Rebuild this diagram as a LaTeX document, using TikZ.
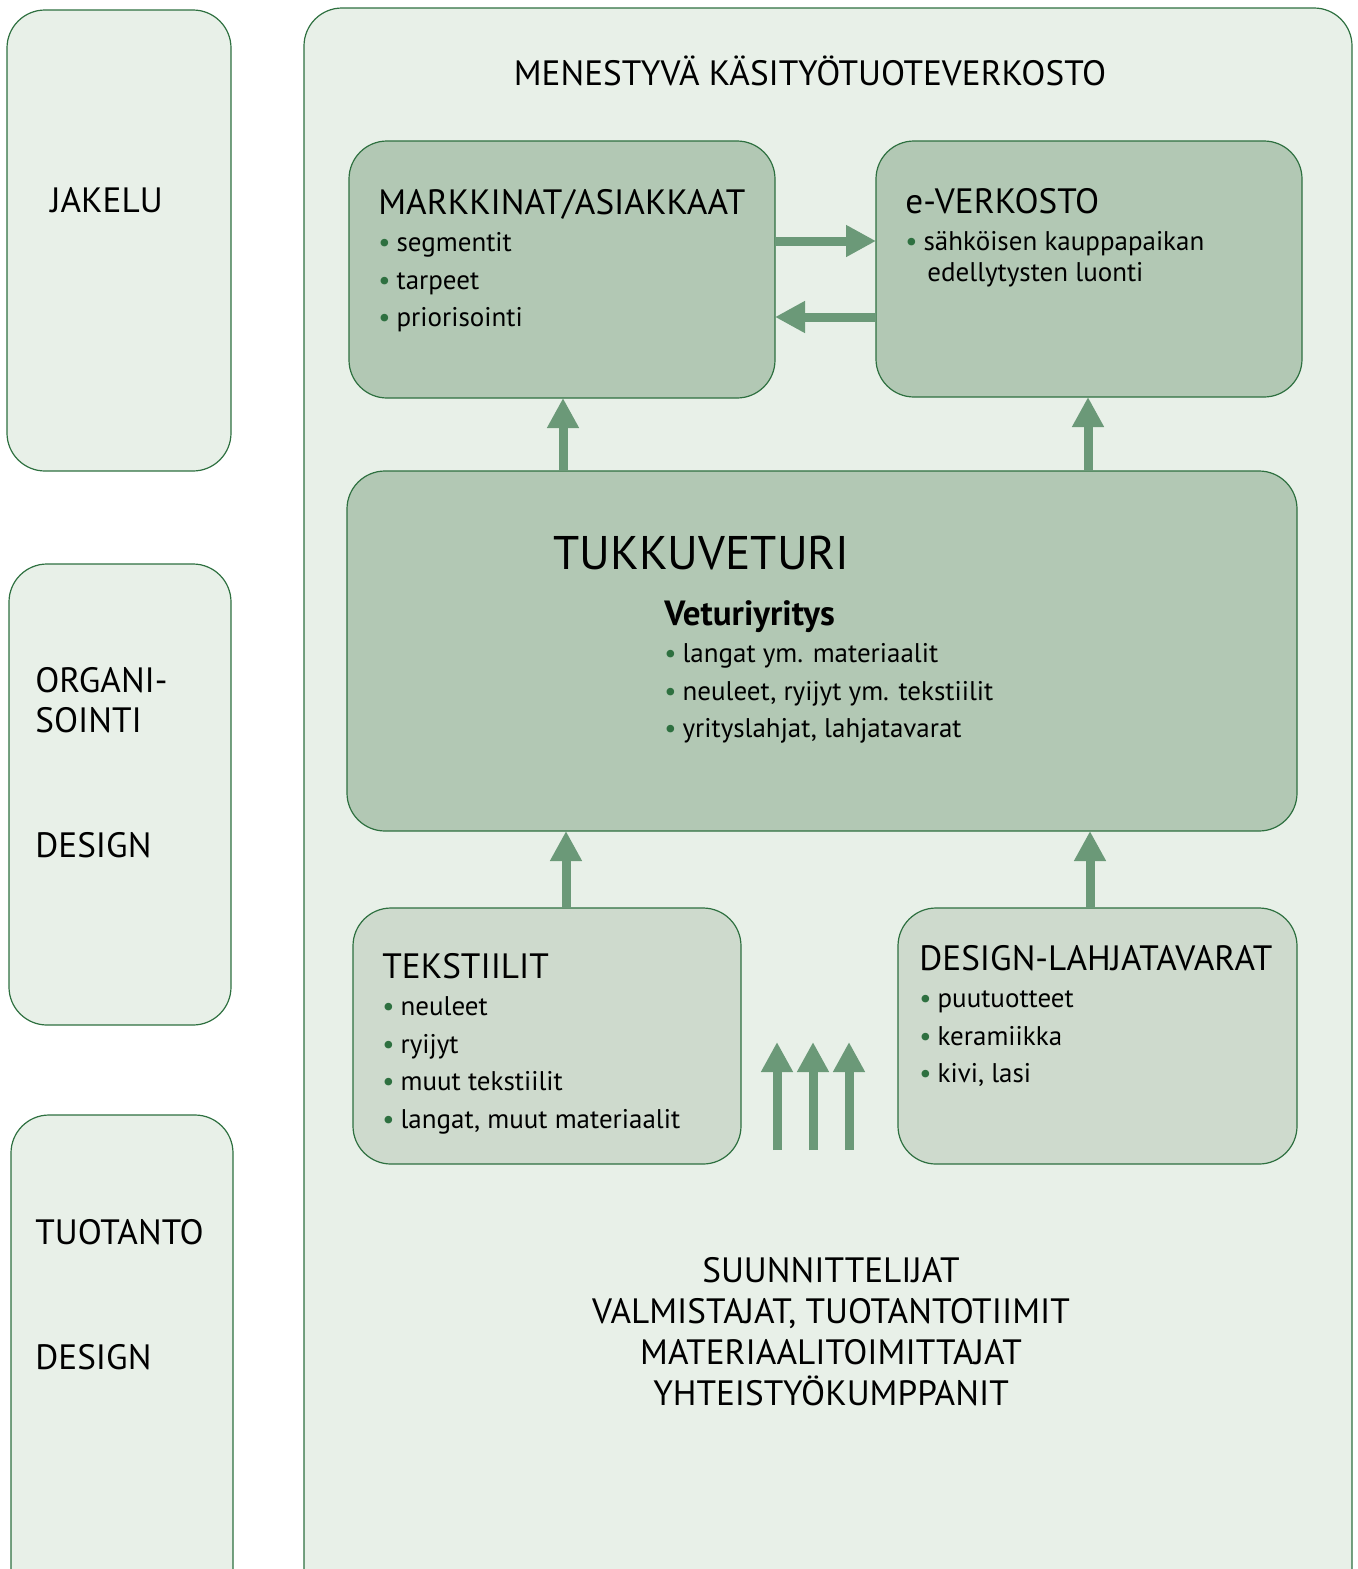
\documentclass[tikz,border=0pt]{standalone}
\usepackage{fontspec}
\setmainfont{PT Sans}
\usetikzlibrary{arrows.meta}

\definecolor{paleGreen}{HTML}{E8F0E8}
\definecolor{midGreen}{HTML}{B2C8B4}
\definecolor{lightGreen}{HTML}{CEDACD}
\definecolor{arrowGreen}{HTML}{6B9978}
\definecolor{lineGreen}{HTML}{2E7040}

\newcommand{\dotitem}{\textcolor{lineGreen}{•}\hspace{3pt}}

\begin{document}
\begin{tikzpicture}[x=0.5pt,y=-0.5pt,
    panel/.style={draw=lineGreen,line width=0.6pt,rounded corners=19pt,
      inner sep=0pt,outer sep=0pt,fill=#1},
    head/.style={anchor=base west,inner sep=0pt,font=\fontsize{17.6}{20}\selectfont},
    item/.style={anchor=base west,inner sep=0pt,font=\fontsize{13.5}{16}\selectfont},
    flow/.style={arrowGreen,line width=4.5pt,
      -{Triangle[length=15pt,width=15pt]}}]
  \useasboundingbox (0,0) rectangle (1357,1569);
  \clip (0,0) rectangle (1357,1569);

  % side columns
  \node[panel=paleGreen,minimum width=112pt,minimum height=230.5pt]
    (jakelu) at (119,240.5) {};
  \node[panel=paleGreen,minimum width=111pt,minimum height=230.5pt]
    (organi) at (120,794.5) {};
  \node[panel=paleGreen,minimum width=111pt,minimum height=252.5pt]
    (tuotanto) at (122,1367.5) {};
  \node[head] (jakeluT) at (50,212) {JAKELU};
  \node[head] (organiT) at (35,692) {ORGANI-};
  \node[head] (sointiT) at (35,732) {SOINTI};
  \node[head] (designA) at (35,857) {DESIGN};
  \node[head] (tuotantoT) at (35,1244) {TUOTANTO};
  \node[head] (designB) at (35,1369) {DESIGN};

  % network frame
  \node[panel=paleGreen,minimum width=524pt,minimum height=806pt]
    (verkosto) at (828,814) {};
  \node[head,anchor=base] (verkostoT) at (810,85)
    {MENESTYVÄ KÄSITYÖTUOTEVERKOSTO};

  % boxes
  \node[panel=midGreen,minimum width=213pt,minimum height=128.5pt]
    (markkinat) at (562,269.5) {};
  \node[panel=midGreen,minimum width=213pt,minimum height=128pt]
    (everkosto) at (1089,269) {};
  \node[panel=midGreen,minimum width=475pt,minimum height=180pt]
    (tukku) at (822,651) {};
  \node[panel=lightGreen,minimum width=194pt,minimum height=128pt]
    (tekstiilit) at (547,1036) {};
  \node[panel=lightGreen,minimum width=199.5pt,minimum height=128pt]
    (lahja) at (1097.5,1036) {};

  % box texts
  \node[head] (markkinatT) at (378,214) {MARKKINAT/ASIAKKAAT};
  \foreach \txt [count=\i] in {segmentit,tarpeet,priorisointi}
    \node[item] (mk\i) at (378,214+37.5*\i) {\dotitem\txt};

  \node[head] (everkostoT) at (905,213) {e-VERKOSTO};
  \node[item] (ev1) at (905,250) {\dotitem sähköisen kauppapaikan};
  \node[item] (ev2) at (927,281) {edellytysten luonti};

  \node[anchor=base west,inner sep=0pt,font=\fontsize{23.6}{26}\selectfont]
    (tukkuT) at (553,569) {TUKKUVETURI};
  \node[item,font=\fontsize{17.5}{20}\selectfont\bfseries]
    (veturi) at (664,625) {Veturiyritys};
  \foreach \txt [count=\i] in {langat ym. materiaalit,
      {neuleet, ryijyt ym. tekstiilit},{yrityslahjat, lahjatavarat}}
    \node[item] (tk\i) at (664,625+37.5*\i) {\dotitem\txt};

  \node[head] (tekstiilitT) at (382,978) {TEKSTIILIT};
  \foreach \txt [count=\i] in {neuleet,ryijyt,muut tekstiilit,
      {langat, muut materiaalit}}
    \node[item] (te\i) at (382,978+37.5*\i) {\dotitem\txt};

  \node[head] (lahjaT) at (919,970) {DESIGN-LAHJATAVARAT};
  \foreach \txt [count=\i] in {puutuotteet,keramiikka,{kivi, lasi}}
    \node[item] (la\i) at (919,970+37.5*\i) {\dotitem\txt};

  % makers
  \foreach \txt [count=\i] in {SUUNNITTELIJAT,{VALMISTAJAT, TUOTANTOTIIMIT},
      MATERIAALITOIMITTAJAT,YHTEISTYÖKUMPPANIT}
    \node[head,anchor=base] (tekijat\i) at (831,1241+41*\i) {\txt};

  % arrows
  \draw[flow] (markkinat.east |- 0,241) -- (everkosto.west |- 0,241);
  \draw[flow] (everkosto.west |- 0,317) -- (markkinat.east |- 0,317);
  \draw[flow] (tukku.north -| 563,0) -- (markkinat.south -| 563,0);
  \draw[flow] (tukku.north -| 1088,0) -- (everkosto.south -| 1088,0);
  \draw[flow] (tekstiilit.north -| 566,0) -- (tukku.south -| 566,0);
  \draw[flow] (lahja.north -| 1090,0) -- (tukku.south -| 1090,0);
  \foreach \x [count=\i] in {777,813,849} {
    \coordinate (foot\i) at (\x,1150);
    \coordinate (tip\i) at (\x,1042);
    \draw[flow] (foot\i) -- (tip\i);
  }
\end{tikzpicture}
\end{document}
